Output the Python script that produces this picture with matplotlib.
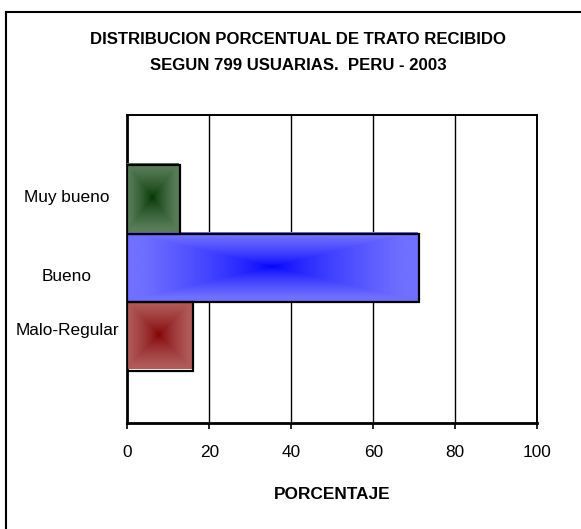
"""Horizontal bar chart: distribucion porcentual de trato recibido (Peru 2003)."""

import matplotlib

matplotlib.use("Agg")

import matplotlib.pyplot as plt
import numpy as np
from matplotlib import font_manager
from matplotlib.lines import Line2D
from matplotlib.patches import Rectangle
from matplotlib.transforms import offset_copy

# data, bottom to top
categories = ["Malo-Regular", "Bueno", "Muy bueno"]
values = [16.1, 71.1, 12.8]
x_ticks = [0, 20, 40, 60, 80, 100]

# gradient colours per bar: (centre, edge)
bar_colors = [
    ("#800000", "#b05a5a"),
    ("#0000ff", "#7070ff"),
    ("#003300", "#587d58"),
]

title_lines = [
    "DISTRIBUCION PORCENTUAL DE TRATO RECIBIDO",
    "SEGUN 799 USUARIAS.  PERU - 2003",
]
x_title = "PORCENTAJE"


def _pick_font() -> str:
    for name in ["Liberation Sans Narrow", "Arial Narrow", "Liberation Sans"]:
        try:
            font_manager.findfont(name, fallback_to_default=False)
            return name
        except Exception:
            continue
    return "DejaVu Sans"


FONT = _pick_font()
plt.rcParams["font.family"] = [FONT, "DejaVu Sans"]
NARROW = "Narrow" in FONT
LABEL_SIZE = 14.4 if NARROW else 12.4
TITLE_SIZE = 14.4 if NARROW else 12.1


def _gradient(c_center, c_edge, n=120):
    """Rectangular 'from centre' gradient, dark in the middle."""
    u = np.linspace(-1, 1, n)
    uu, vv = np.meshgrid(u, u)
    t = np.maximum(np.abs(uu), np.abs(vv))
    t = np.clip(t / 0.9, 0, 1) ** 0.7
    c0 = np.array(matplotlib.colors.to_rgb(c_center))
    c1 = np.array(matplotlib.colors.to_rgb(c_edge))
    return c0 + (c1 - c0) * t[..., None]


fig = plt.figure(figsize=(5.81, 5.29), dpi=100)
ax = fig.add_axes([0.2191, 0.2000, 0.7057, 0.5832])

ylim = (-1.261, 3.231)
ax.set_xlim(0, 100)
ax.set_ylim(*ylim)

# the filled face sits slightly up-left of its black outline
face_tr = offset_copy(ax.transData, fig=fig, x=-1.3, y=1.5, units="dots")
for i, (val, (c0, c1)) in enumerate(zip(values, bar_colors)):
    y0, y1 = i - 0.5, i + 0.5
    ax.imshow(_gradient(c0, c1), extent=[0, val, y0, y1], aspect="auto",
              interpolation="bilinear", zorder=3, origin="lower",
              transform=face_tr)
    ax.add_patch(Rectangle((0, y0), val, 1, fill=False, edgecolor="black",
                           linewidth=1.6, zorder=4))

ax.set_xlim(0, 100)
ax.set_ylim(*ylim)

# vertical gridlines
for x in x_ticks[1:-1]:
    ax.axvline(x, color="black", linewidth=1.0, zorder=1)

ax.set_xticks(x_ticks)
ax.set_xticklabels([str(v) for v in x_ticks], fontsize=LABEL_SIZE)
ax.tick_params(axis="x", length=4, width=1.2, pad=12, color="black")

# category labels sit a little off the bar centres, as in the original
label_shift = [0.112, -0.102, 0.048]
ax.set_yticks([i + s for i, s in enumerate(label_shift)])
ax.set_yticklabels(categories, fontsize=LABEL_SIZE, ha="center")
ax.tick_params(axis="y", length=0, pad=43.4)

for side in ["left", "bottom"]:
    ax.spines[side].set_linewidth(2.0)
for side in ["top", "right"]:
    ax.spines[side].set_linewidth(1.4)

ax.set_xlabel(x_title, fontsize=LABEL_SIZE, fontweight="bold")
ax.xaxis.set_label_coords(0.5, -0.231)
ax.xaxis.label.set_va("center")

for k, line in enumerate(title_lines):
    fig.text(298 / 581, 1 - (39 + 26.6 * k) / 529, line, ha="center", va="center",
             fontsize=TITLE_SIZE, fontweight="bold")

# chart-area frame: only the top and left edges show in the crop
fig.add_artist(Line2D([5.5 / 581, 1.0], [1 - 11.5 / 529] * 2, color="black",
                      linewidth=1.5, transform=fig.transFigure))
fig.add_artist(Line2D([5.5 / 581] * 2, [0.0, 1 - 11.5 / 529], color="black",
                      linewidth=1.5, transform=fig.transFigure))

fig.savefig("out.png", dpi=100, facecolor="white")
